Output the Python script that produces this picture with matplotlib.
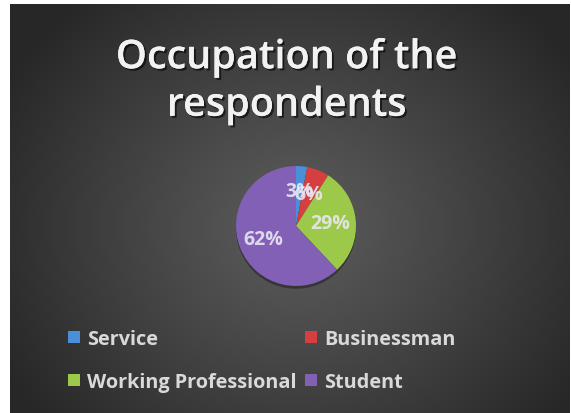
import numpy as np
import matplotlib
matplotlib.use("Agg")
import matplotlib.pyplot as plt
import matplotlib.patheffects as pe
from matplotlib.patches import Patch

# survey answers
occupations = ["Service", "Businessman", "Working Professional", "Student"]
shares = [3, 6, 29, 62]
colors = ["#4a8fd8", "#d63f3f", "#9dc94b", "#8160b6"]

W, H = 571, 414
fig = plt.figure(figsize=(W / 100, H / 100), dpi=100, facecolor="white")

# dark panel with a radial glow behind the pie
bg = fig.add_axes([10 / W, 0, 560 / W, 409 / H])
bg.set_axis_off()
yy, xx = np.mgrid[0:409, 0:560]
cx, cy = 286, 222
d = np.sqrt(((xx - cx) / 330.0) ** 2 + ((yy - cy) / 300.0) ** 2)
d = np.clip(d, 0, 1)
lo, hi = 0.155, 0.36
shade = hi - (hi - lo) * d ** 1.1
bg.imshow(np.dstack([shade, shade, shade]), aspect="auto", extent=[0, 560, 409, 0])
bg.set_xlim(0, 560)
bg.set_ylim(409, 0)

fig.text(287 / W, 1 - 83 / H, "Occupation of the\nrespondents",
         ha="center", va="center", fontsize=28.5, fontweight="semibold",
         family="Open Sans", color="#f2f2f2", linespacing=1.25,
         path_effects=[pe.withSimplePatchShadow(offset=(1.5, -1.5), shadow_rgbFace="black", alpha=0.6),
                       pe.Normal()])

# the pie itself
r = 60
pcx, pcy = 296, 227
ax = fig.add_axes([(pcx - r) / W, 1 - (pcy + r) / H, 2 * r / W, 2 * r / H])
wedges, _, autotexts = ax.pie(shares, colors=colors, startangle=90, counterclock=False,
                              autopct="%d%%", pctdistance=0.58,
                              wedgeprops=dict(linewidth=0))
for w in wedges:
    w.set_path_effects([pe.SimplePatchShadow(offset=(0, -2), shadow_rgbFace="black", alpha=0.35),
                        pe.Normal()])
for t in autotexts:
    t.set_color("#e8e6f2")
    t.set_alpha(0.9)
    t.set_fontsize(14)
    t.set_fontweight("bold")
    t.set_family("Open Sans")
ax.set_xlim(-1, 1)
ax.set_ylim(-1, 1)
ax.set_axis_off()

# legend fills row by row: Service, Businessman / Working Professional, Student
order = [0, 2, 1, 3]
handles = [Patch(facecolor=colors[i], edgecolor="none") for i in order]
labels = [occupations[i] for i in order]
leg = fig.legend(handles, labels, loc="upper left",
                 bbox_to_anchor=(68 / W, 1 - 330 / H), ncol=2,
                 frameon=False, handlelength=0.6, handleheight=0.6,
                 handletextpad=0.35, columnspacing=0.45, labelspacing=1.15,
                 borderpad=0, borderaxespad=0,
                 prop=dict(family="Open Sans", weight="bold", size=14.3))
for txt in leg.get_texts():
    txt.set_color("#d9d9d9")

fig.savefig("out.png", dpi=100, facecolor="white")
